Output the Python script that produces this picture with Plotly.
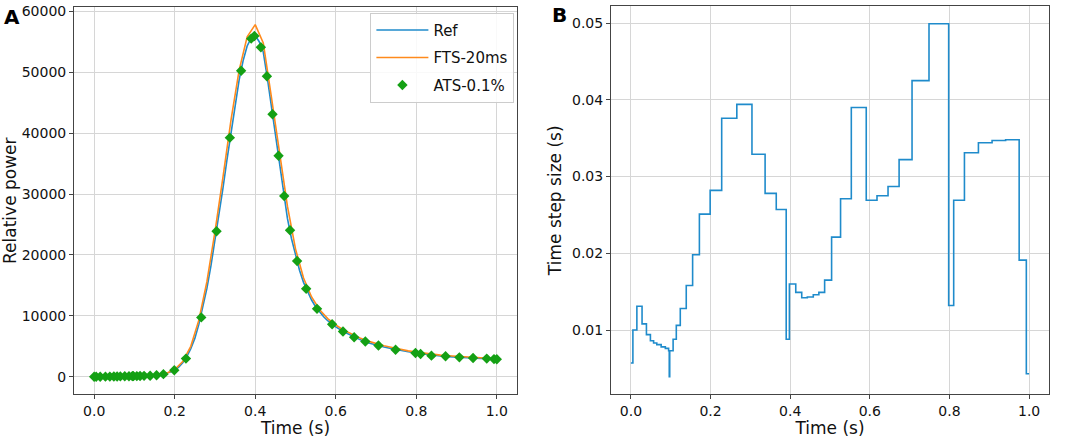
import plotly.graph_objects as go
from plotly.subplots import make_subplots

# reference solution (fine steps)
ref_t = [0.00, 0.02, 0.04, 0.06, 0.08, 0.10, 0.12, 0.14, 0.16, 0.17, 0.18, 0.19,
         0.20, 0.21, 0.22, 0.23, 0.24, 0.25, 0.26, 0.27, 0.28, 0.29, 0.30, 0.31,
         0.32, 0.33, 0.34, 0.35, 0.36, 0.37, 0.38, 0.39, 0.40, 0.41, 0.42, 0.43,
         0.44, 0.45, 0.46, 0.47, 0.48, 0.49, 0.50, 0.51, 0.52, 0.53, 0.54, 0.55,
         0.56, 0.57, 0.58, 0.60, 0.62, 0.64, 0.66, 0.68, 0.70, 0.72, 0.74, 0.76,
         0.78, 0.80, 0.82, 0.84, 0.86, 0.88, 0.90, 0.92, 0.94, 0.96, 0.98, 1.00]
ref_p = [1, 15, 30, 50, 75, 105, 130, 200, 300, 420, 550, 780,
         1100, 1600, 2300, 3300, 4600, 6300, 8600, 11300, 14500, 18200, 22300, 26600,
         31000, 35700, 40300, 44700, 48700, 51900, 54300, 55600, 56000, 55000, 53300, 49100,
         44500, 40000, 35500, 30800, 26000, 22700, 20000, 17500, 15500, 13900, 12600, 11500,
         10600, 9850, 9200, 8200, 7400, 6700, 6100, 5600, 5200, 4900, 4600, 4300,
         4100, 3900, 3700, 3500, 3400, 3300, 3200, 3150, 3100, 3000, 2950, 2900]

# fixed time step 20 ms
fts_t = [0.00, 0.02, 0.04, 0.06, 0.08, 0.10, 0.12, 0.14, 0.16, 0.18, 0.20, 0.22,
         0.24, 0.26, 0.28, 0.30, 0.32, 0.34, 0.36, 0.38, 0.40, 0.42, 0.44, 0.46,
         0.48, 0.50, 0.52, 0.54, 0.56, 0.58, 0.60, 0.62, 0.64, 0.66, 0.68, 0.70,
         0.72, 0.74, 0.76, 0.78, 0.80, 0.82, 0.84, 0.86, 0.88, 0.90, 0.92, 0.94,
         0.96, 0.98, 1.00]
fts_p = [1, 15, 30, 50, 75, 105, 135, 205, 310, 580, 1200, 2500,
         5000, 9300, 15600, 23800, 32800, 42200, 50300, 55800, 57800, 54800, 46000, 36800,
         28000, 21000, 16200, 13100, 11000, 9550, 8500, 7650, 6950, 6350, 5850, 5450,
         5100, 4800, 4500, 4250, 4050, 3850, 3650, 3550, 3450, 3350, 3250, 3200,
         3100, 3050, 3000]

# adaptive time step, tolerance 0.1 %
ats_t = [0.0, 0.005, 0.015, 0.028, 0.039, 0.049, 0.057, 0.065, 0.076, 0.0865,
         0.0947, 0.0963, 0.0975, 0.106, 0.114, 0.124, 0.139, 0.155, 0.172, 0.199,
         0.228, 0.266, 0.304, 0.337, 0.365, 0.390, 0.398, 0.414, 0.429, 0.443,
         0.458, 0.472, 0.4865, 0.504, 0.5265, 0.5535, 0.591, 0.618, 0.6457, 0.6735,
         0.706, 0.7486, 0.798, 0.8106, 0.8376, 0.8727, 0.907, 0.941, 0.975, 0.993, 1.0]
ats_p = [1, 5, 12, 20, 30, 40, 50, 60, 75, 90,
         100, 103, 106, 115, 130, 150, 180, 250, 430, 1080,
         2980, 9750, 23880, 39250, 50240, 55500, 55930, 54090, 49320, 43100,
         36280, 29670, 24040, 19000, 14460, 11150, 8610, 7420, 6500, 5790,
         5140, 4440, 3900, 3740, 3470, 3360, 3190, 3090, 2980, 2900, 2870]
ats_dt = [0.0057, 0.0100, 0.0131, 0.0108, 0.0094, 0.0086, 0.0083, 0.0081, 0.0078, 0.0076,
          0.0073, 0.0039, 0.0073, 0.0088, 0.0106, 0.0128, 0.0158, 0.0198, 0.0251, 0.0282,
          0.0376, 0.0394, 0.0329, 0.0278, 0.0257, 0.0088, 0.0160, 0.0149, 0.0142, 0.0143,
          0.0146, 0.0149, 0.0165, 0.0221, 0.0271, 0.0390, 0.0269, 0.0275, 0.0287, 0.0322,
          0.0425, 0.0499, 0.0132, 0.0269, 0.0331, 0.0344, 0.0347, 0.0348, 0.0191, 0.0043, 0.0043]

x_ticks = [0.0, 0.2, 0.4, 0.6, 0.8, 1.0]
p_ticks = [0, 10000, 20000, 30000, 40000, 50000, 60000]
dt_ticks = [0.01, 0.02, 0.03, 0.04, 0.05]

BLUE = "#1f8bcb"
ORANGE = "#ff8a1c"
GREEN = "#14a014"
FONT = "DejaVu Sans"

fig = make_subplots(rows=1, cols=2)

fig.add_trace(go.Scatter(x=ref_t, y=ref_p, mode="lines", name="Ref", legendgroup="a",
                         line=dict(color=BLUE, width=1.6)), row=1, col=1)
fig.add_trace(go.Scatter(x=fts_t, y=fts_p, mode="lines", name="FTS-20ms", legendgroup="b",
                         line=dict(color=ORANGE, width=1.6)), row=1, col=1)
fig.add_trace(go.Scatter(x=ats_t, y=ats_p, mode="markers", name="ATS-0.1%", legendgroup="c",
                         marker=dict(symbol="diamond", size=8, color=GREEN)), row=1, col=1)
fig.add_trace(go.Scatter(x=ats_t, y=ats_dt, mode="lines", line_shape="hv",
                         line=dict(color=BLUE, width=1.6), showlegend=False), row=1, col=2)

axis_common = dict(showline=True, mirror=True, linecolor="#444", linewidth=1,
                   ticks="outside", ticklen=4, tickcolor="#444",
                   showgrid=True, gridcolor="#d6d6d6", gridwidth=1, zeroline=False,
                   ticklabeloverflow="allow",
                   tickfont=dict(family=FONT, size=14, color="#111"),
                   title_font=dict(family=FONT, size=17, color="#111"))

fig.update_xaxes(axis_common)
fig.update_yaxes(axis_common)

fig.update_xaxes(domain=[0.0695, 0.4854], range=[-0.05, 1.05], tickvals=x_ticks,
                 tickformat=".1f", title_text="Time (s)", title_standoff=0, row=1, col=1)
fig.update_xaxes(domain=[0.5737, 0.985], range=[-0.05, 1.05], tickvals=x_ticks,
                 tickformat=".1f", title_text="Time (s)", title_standoff=0, row=1, col=2)
fig.update_yaxes(domain=[0.1005, 0.993], range=[-2890, 60690], tickvals=p_ticks,
                 tickformat="d", title_text="Relative power", title_standoff=4, row=1, col=1)
fig.update_yaxes(domain=[0.1005, 0.995], range=[0.00161, 0.0522], tickvals=dt_ticks,
                 tickformat=".2f", title_text="Time step size (s)", title_standoff=6, row=1, col=2)

fig.add_annotation(text="<b>A</b>", x=0.002, y=1.0, yshift=1, xref="paper", yref="paper",
                   xanchor="left", yanchor="top", showarrow=False,
                   font=dict(family=FONT, size=20, color="#000"))
fig.add_annotation(text="<b>B</b>", x=0.516, y=1.0, yshift=3, xref="paper", yref="paper",
                   xanchor="left", yanchor="top", showarrow=False,
                   font=dict(family=FONT, size=20, color="#000"))

fig.update_layout(
    width=1065, height=438,
    margin=dict(l=0, r=0, t=0, b=0),
    paper_bgcolor="white", plot_bgcolor="white",
    legend=dict(x=0.483, y=0.98, xanchor="right", yanchor="top",
                bgcolor="rgba(255,255,255,0.85)", bordercolor="#ccc", borderwidth=1,
                tracegroupgap=5,
                font=dict(family=FONT, size=15, color="#111"), itemwidth=52),
)

fig.write_html("out.html", config={"displayModeBar": False},
               post_script="document.body.style.margin='0';")
